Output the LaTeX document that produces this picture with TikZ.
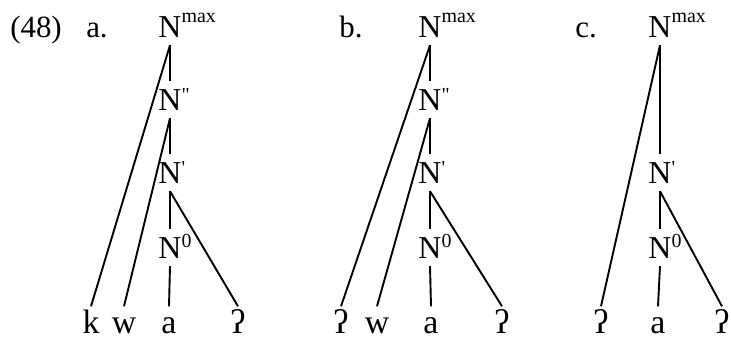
\documentclass[tikz,border=0pt]{standalone}
\usepackage{fontspec}
\setmainfont{Liberation Serif}[Ligatures=TeXOff]
\newcommand{\mysup}[2]{\rlap{\raisebox{#1}{\fontsize{20}{20}\selectfont #2}}}
\tikzset{
  cat/.style={anchor=base, inner xsep=0pt, inner ysep=8bp, text height=21bp, text depth=0pt, font=\fontsize{32}{36}\selectfont},
  leaf/.style={anchor=base, inner xsep=0pt, inner ysep=3.5bp, text height=23bp, text depth=0pt, font=\fontsize{34}{38}\selectfont},
  lbl/.style={anchor=base, inner sep=0pt, font=\fontsize{31}{36}\selectfont},
  br/.style={line width=1.9bp}
}
\begin{document}
\begin{tikzpicture}[x=1bp,y=-1bp]
\useasboundingbox (0,0) rectangle (731,338);
% panel a
\node[lbl] (ex) at (36,37) {(48)};
\node[lbl] (la) at (97,37) {a.};
\node[cat] (amax) at (170,37) {N\mysup{15bp}{max}};
\node[cat] (a2) at (170,110) {N\mysup{9bp}{\symbol{34}}};
\node[cat] (a1) at (170,183) {N\mysup{9bp}{\symbol{39}}};
\node[cat] (a0) at (170,258) {N\mysup{11bp}{0}};
\node[leaf] (ak) at (91,333) {k};
\node[leaf] (aw) at (124,333) {w};
\node[leaf] (aa) at (169,333) {a};
\node[leaf] (aq) at (238,333) {ʔ};
\draw[br] (amax.south) -- (a2.north);
\draw[br] (a2.south) -- (a1.north);
\draw[br] (a1.south) -- (a0.north);
\draw[br] (a0.south) -- (aa.north);
\draw[br] (amax.south) -- (ak.north);
\draw[br] (a2.south) -- (aw.north);
\draw[br] (a1.south) -- (aq.north);
% panel b
\node[lbl] (lb) at (351,37) {b.};
\node[cat] (bmax) at (430,37) {N\mysup{15bp}{max}};
\node[cat] (b2) at (430,110) {N\mysup{9bp}{\symbol{34}}};
\node[cat] (b1) at (430,183) {N\mysup{9bp}{\symbol{39}}};
\node[cat] (b0) at (430,258) {N\mysup{11bp}{0}};
\node[leaf] (bq1) at (341,333) {ʔ};
\node[leaf] (bw) at (377,333) {w};
\node[leaf] (ba) at (431,333) {a};
\node[leaf] (bq2) at (502,333) {ʔ};
\draw[br] (bmax.south) -- (b2.north);
\draw[br] (b2.south) -- (b1.north);
\draw[br] (b1.south) -- (b0.north);
\draw[br] (b0.south) -- (ba.north);
\draw[br] (bmax.south) -- (bq1.north);
\draw[br] (b2.south) -- (bw.north);
\draw[br] (b1.south) -- (bq2.north);
% panel c
\node[lbl] (lc) at (586,37) {c.};
\node[cat] (cmax) at (660,37) {N\mysup{15bp}{max}};
\node[cat] (c1) at (660,183) {N\mysup{9bp}{\symbol{39}}};
\node[cat] (c0) at (660,258) {N\mysup{11bp}{0}};
\node[leaf] (cq1) at (601,333) {ʔ};
\node[leaf] (ca) at (658,333) {a};
\node[leaf] (cq2) at (722,333) {ʔ};
\draw[br] (cmax.south) -- (c1.north);
\draw[br] (c1.south) -- (c0.north);
\draw[br] (c0.south) -- (ca.north);
\draw[br] (cmax.south) -- (cq1.north);
\draw[br] (c1.south) -- (cq2.north);
\end{tikzpicture}
\end{document}
